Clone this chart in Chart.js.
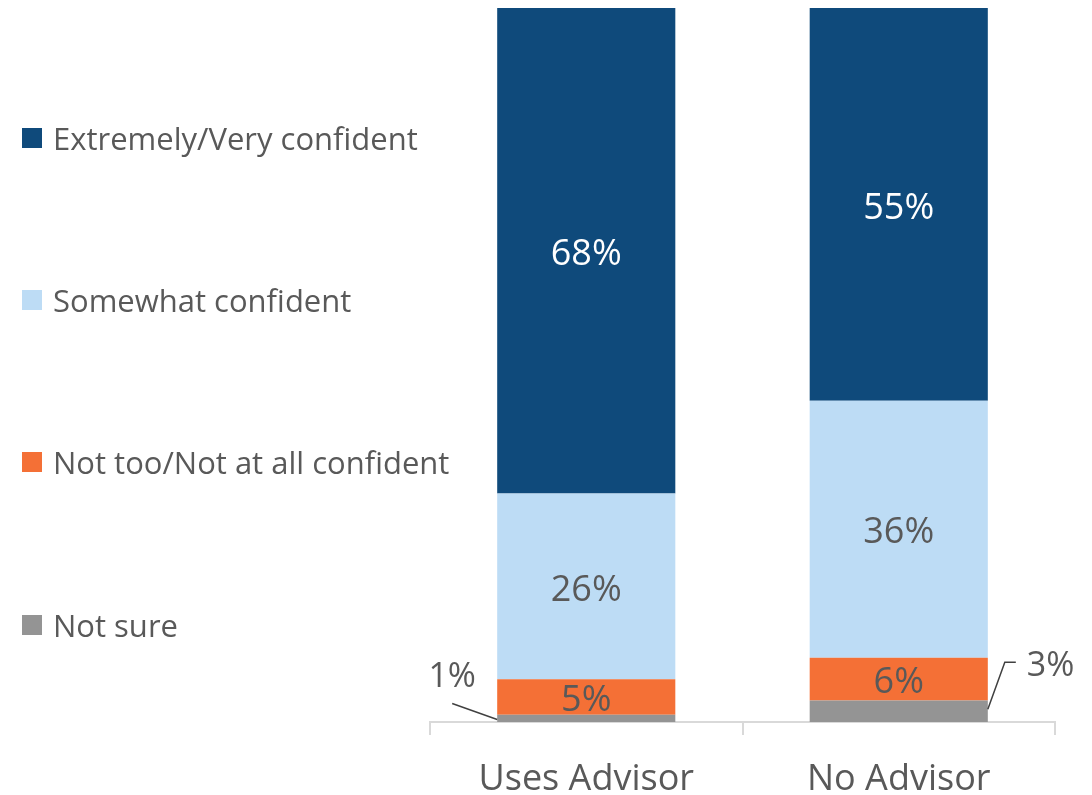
<!DOCTYPE html>
<html>
<head>
<meta charset="utf-8">
<script src="https://cdn.jsdelivr.net/npm/chart.js@4.4.1/dist/chart.umd.min.js"></script>
<style>
  html, body { margin: 0; padding: 0; background: #fff; }
  #wrap { width: 1092px; height: 795px; position: relative; }
</style>
</head>
<body>
<div id="wrap"><canvas id="chart"></canvas></div>
<script>
// dados do grafico
const categorias = ['Uses Advisor', 'No Advisor'];
const series = ['Not sure', 'Not too/Not at all confident', 'Somewhat confident', 'Extremely/Very confident'];
const naoSei = [1, 3];
const poucoConfiante = [5, 6];
const algoConfiante = [26, 36];
const muitoConfiante = [68, 55];

const CORES = {
    escuro: '#0f4a7b',
    claro: '#bddcf5',
    laranja: '#f47036',
    cinza: '#949494',
    texto: '#595959',
    eixo: '#d9d9d9'
};
const FONTE = '"Open Sans", Lato, sans-serif';

// legenda a esquerda, uma linha por serie (de cima para baixo)
const legendaPlugin = {
    id: 'legendaLateral',
    afterDraw(chart) {
        const ctx = chart.ctx;
        const itens = [
            { txt: series[3], cor: CORES.escuro, y: 138 },
            { txt: series[2], cor: CORES.claro, y: 300 },
            { txt: series[1], cor: CORES.laranja, y: 462 },
            { txt: series[0], cor: CORES.cinza, y: 625 }
        ];
        ctx.save();
        ctx.font = '31px ' + FONTE;
        ctx.textBaseline = 'middle';
        itens.forEach(it => {
            ctx.fillStyle = it.cor;
            ctx.fillRect(22, it.y - 10, 20, 20);
            ctx.fillStyle = CORES.texto;
            ctx.fillText(it.txt, 53, it.y + 3);
        });
        ctx.restore();
    }
};

// rotulos de valor
const rotulosPlugin = {
    id: 'rotulos',
    afterDatasetsDraw(chart) {
        const ctx = chart.ctx;
        ctx.save();
        ctx.textAlign = 'center';
        ctx.textBaseline = 'middle';
        chart.data.datasets.forEach((ds, di) => {
            const meta = chart.getDatasetMeta(di);
            meta.data.forEach((bar, i) => {
                const v = ds.data[i];
                const txt = v + '%';
                if (di === 0) {
                    // rotulo externo com linha guia
                    ctx.font = '34px ' + FONTE;
                    ctx.strokeStyle = '#404040';
                    ctx.lineWidth = 1.5;
                    ctx.fillStyle = CORES.texto;
                    const esq = bar.x - bar.width / 2;
                    const dir = bar.x + bar.width / 2;
                    const yb = (bar.y + bar.base) / 2;
                    ctx.beginPath();
                    if (i === 0) {
                        ctx.moveTo(esq, yb + 1);
                        ctx.lineTo(esq - 45, yb - 15);
                        ctx.stroke();
                        ctx.fillText(txt, esq - 45, yb - 41);
                    } else {
                        ctx.moveTo(dir, yb - 2);
                        ctx.lineTo(dir + 17, yb - 49);
                        ctx.lineTo(dir + 28, yb - 49);
                        ctx.stroke();
                        ctx.textAlign = 'left';
                        ctx.fillText(txt, dir + 39, yb - 45);
                        ctx.textAlign = 'center';
                    }
                    return;
                }
                ctx.font = '36px ' + FONTE;
                ctx.fillStyle = di === 3 ? '#ffffff' : CORES.texto;
                ctx.fillText(txt, bar.x, (bar.y + bar.base) / 2 + 4);
            });
        });
        ctx.restore();
    }
};

new Chart(document.getElementById('chart').getContext('2d'), {
    type: 'bar',
    data: {
        labels: categorias,
        datasets: [
            { label: series[0], data: naoSei, backgroundColor: CORES.cinza },
            { label: series[1], data: poucoConfiante, backgroundColor: CORES.laranja },
            { label: series[2], data: algoConfiante, backgroundColor: CORES.claro },
            { label: series[3], data: muitoConfiante, backgroundColor: CORES.escuro }
        ]
    },
    options: {
        responsive: true,
        maintainAspectRatio: false,
        animation: false,
        datasets: { bar: { barPercentage: 0.57, categoryPercentage: 1, borderWidth: 0 } },
        layout: { padding: { left: 430, top: 8, right: 37, bottom: 0 } },
        plugins: { legend: { display: false }, tooltip: { enabled: false } },
        scales: {
            x: {
                stacked: true,
                afterFit: s => { s.height = 73; },
                grid: { offset: true, drawOnChartArea: false, drawTicks: true, tickLength: 13, color: CORES.eixo, lineWidth: 2 },
                border: { display: true, color: CORES.eixo, width: 2 },
                ticks: { color: CORES.texto, font: { family: FONTE, size: 36 }, padding: 23 }
            },
            y: { stacked: true, display: false, min: 0, max: 100 }
        }
    },
    plugins: [legendaPlugin, rotulosPlugin]
});
</script>
</body>
</html>
